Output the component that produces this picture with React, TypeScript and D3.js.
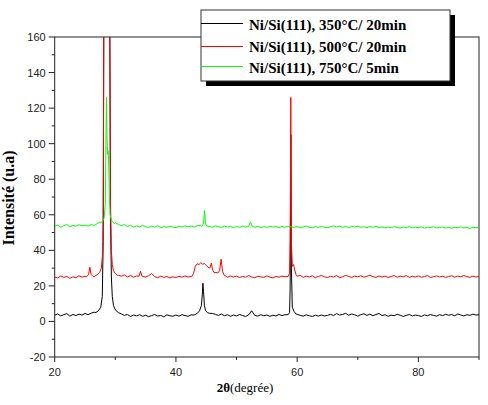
import React from "react";
import * as d3 from "d3";

// 2θ grid for the background points (0.5° step, 20° → 90°)
const angleStart = 20;
const angleStep = 0.5;

const seriesNames = [
  "Ni/Si(111), 350°C/ 20min",
  "Ni/Si(111), 500°C/ 20min",
  "Ni/Si(111), 750°C/ 5min",
];
const seriesColors = ["#000000", "#ff0000", "#00ff00"];

const xTicks = [20, 40, 60, 80];
const xMinorTicks = [30, 50, 70, 90];
const yTicks = [-20, 0, 20, 40, 60, 80, 100, 120, 140, 160];
const yMinorTicks = [-10, 10, 30, 50, 70, 90, 110, 130, 150];

// 350°C / 20min
const base350 = [
  3.5, 4.2, 3.1, 3.8, 4.4, 3.0, 3.9, 3.3, 4.1, 3.6,
  4.5, 3.8, 4.6, 5.2, 6.0, 7.5, 60, 900, 300, 20,
  6.5, 5.0, 4.2, 3.4, 3.9, 2.8, 3.6, 3.1, 3.8, 2.9,
  3.5, 2.7, 3.3, 3.9, 3.0, 3.4, 2.6, 3.7, 3.2, 2.9,
  3.6, 3.0, 3.8, 3.3, 2.9, 3.7, 4.5, 6.0, 10, 21,
  9, 5.5, 4.5, 4.0, 3.4, 4.1, 3.2, 3.8, 2.9, 3.6,
  3.1, 3.9, 3.3, 2.8, 3.7, 6.0, 3.4, 3.0, 3.8, 3.2,
  3.6, 2.9, 3.5, 3.1, 3.9, 3.3, 3.8, 4.6, 100, 5,
  4.0, 3.4, 3.0, 3.7, 3.2, 2.8, 3.5, 3.0, 3.6, 3.1,
  3.4, 4.0, 3.3, 4.4, 3.6, 3.9, 4.6, 3.5, 4.2, 3.7,
  3.0, 3.8, 4.3, 3.4, 4.1, 3.2, 3.9, 4.5, 3.3, 3.8,
  2.9, 3.6, 3.2, 4.0, 3.5, 2.8, 3.4, 3.9, 3.1, 3.6,
  3.3, 2.8, 3.7, 3.2, 3.9, 3.4, 3.0, 3.8, 3.3, 4.0,
  3.5, 3.9, 3.2, 4.2, 3.6, 3.1, 3.8, 3.4, 4.1, 3.6,
  3.8,
];
const peaks350: [number, number][][] = [
  [[26.8, 5], [27.2, 6], [27.6, 8], [27.85, 14], [28.0, 45], [28.1, 165], [28.2, 700], [28.4, 2000],
   [28.6, 2500], [28.8, 1500], [29.0, 300], [29.1, 160], [29.2, 60], [29.35, 25], [29.5, 14],
   [29.7, 9], [30.0, 6.5]],
  [[43.0, 3.6], [43.5, 4.5], [43.9, 6], [44.2, 9], [44.35, 15], [44.45, 21.5], [44.55, 17],
   [44.7, 9], [44.9, 6], [45.2, 5], [45.5, 4.6]],
  [[58.5, 3.8], [58.75, 5], [58.85, 20], [58.95, 105], [59.05, 30], [59.2, 8], [59.5, 5.5], [59.8, 4.2]],
];

// 500°C / 20min
const base500 = [
  25.0, 24.4, 25.6, 24.8, 25.3, 24.2, 25.1, 24.6, 25.7, 24.9,
  25.4, 26.5, 26.5, 25.0, 25.8, 26.5, 60, 900, 300, 30,
  27.5, 26.0, 25.4, 26.2, 25.0, 25.8, 24.9, 25.6, 28.0, 25.3,
  25.0, 25.7, 27.0, 25.2, 24.6, 25.5, 24.8, 25.3, 24.5, 25.1,
  24.7, 25.4, 24.9, 25.6, 25.0, 25.3, 31.0, 32.5, 32.0, 32.6,
  31.0, 30.0, 30.0, 28.0, 27.0, 28.0, 25.8, 24.8, 25.6, 25.0,
  25.5, 24.7, 25.3, 24.9, 25.8, 25.0, 24.6, 25.4, 25.1, 24.8,
  25.6, 25.0, 24.5, 25.3, 24.9, 25.5, 25.1, 25.8, 126, 31,
  25.4, 25.9, 24.8, 25.5, 25.0, 25.7, 24.6, 25.3, 25.9, 25.1,
  24.7, 25.4, 25.0, 25.8, 24.6, 25.2, 25.9, 25.3, 24.8, 25.5,
  25.1, 25.7, 24.9, 25.4, 26.0, 25.2, 24.8, 25.6, 25.0, 25.5,
  24.7, 25.3, 25.8, 24.9, 25.5, 25.1, 25.8, 24.8, 25.4, 25.0,
  25.6, 24.9, 25.3, 25.8, 24.7, 25.2, 25.6, 25.0, 25.4, 24.8,
  25.3, 25.7, 24.9, 25.5, 25.1, 25.8, 25.2, 24.8, 25.5, 25.0,
  25.3,
];
const peaks500: [number, number][][] = [
  [[25.3, 25.2], [25.6, 26.5], [25.8, 30.5], [26.0, 26.5], [26.3, 25.4]],
  [[26.6, 25.5], [27.0, 26.2], [27.4, 27.5], [27.7, 30], [27.9, 38], [28.0, 60], [28.1, 165],
   [28.2, 700], [28.4, 2000], [28.6, 2500], [28.8, 1500], [29.0, 300], [29.1, 160], [29.2, 70],
   [29.35, 40], [29.5, 32], [29.7, 28.5], [30.0, 27], [30.3, 26]],
  [[33.9, 25.4], [34.15, 28.2], [34.4, 25.5]],
  [[42.6, 25.2], [42.9, 27], [43.2, 31], [43.5, 32.5], [43.8, 32], [44.1, 33], [44.4, 32.2],
   [44.7, 32.6], [45.0, 31.5], [45.3, 30.5], [45.6, 30], [45.85, 32.8], [46.05, 29], [46.3, 27.5],
   [46.6, 27.6], [46.9, 27.2], [47.2, 28.5], [47.45, 35], [47.7, 28], [48.0, 25.8], [48.3, 25.5]],
  [[58.5, 25.3], [58.75, 27], [58.85, 45], [58.95, 126], [59.05, 45], [59.2, 31], [59.4, 32],
   [59.6, 29], [59.8, 26.5]],
];

// 750°C / 5min
const base750 = [
  53.5, 54.2, 53.0, 53.9, 54.5, 53.3, 54.0, 53.6, 54.4, 53.8,
  54.2, 53.6, 54.5, 54.0, 55.0, 56.0, 58, 126, 80, 58,
  55.5, 54.6, 53.9, 54.5, 53.4, 54.1, 53.0, 53.7, 53.2, 54.0,
  53.3, 52.8, 53.6, 53.0, 53.9, 52.7, 53.4, 52.9, 53.6, 53.1,
  52.8, 53.5, 53.0, 53.8, 53.2, 53.7, 53.1, 53.9, 54.0, 60,
  55, 53.5, 53.0, 53.8, 53.2, 52.9, 53.6, 53.1, 53.5, 52.8,
  53.4, 52.9, 53.6, 53.1, 53.2, 53.7, 53.0, 53.5, 52.8, 53.3,
  52.9, 53.6, 53.1, 53.4, 52.8, 53.5, 53.0, 53.6, 53.2, 52.9,
  53.4, 52.8, 53.2, 53.7, 53.0, 52.6, 53.3, 52.9, 53.5, 53.0,
  52.7, 53.3, 53.8, 53.1, 53.6, 53.0, 53.4, 52.8, 53.5, 53.1,
  53.6, 52.9, 53.3, 52.7, 53.4, 53.0, 53.5, 52.8, 53.2, 52.6,
  53.1, 52.7, 53.3, 52.9, 52.5, 53.2, 52.8, 53.4, 52.6, 53.0,
  52.7, 53.2, 52.5, 53.0, 52.8, 53.3, 52.6, 52.9, 53.1, 52.5,
  52.9, 52.4, 53.0, 52.7, 53.2, 52.6, 52.9, 52.3, 53.0, 52.7,
  53.0,
];
const peaks750: [number, number][][] = [
  [[27.6, 55.5], [27.9, 56.5], [28.15, 58], [28.35, 66], [28.48, 110], [28.55, 126], [28.62, 105],
   [28.72, 94], [28.82, 96], [28.92, 88], [29.02, 70], [29.15, 60], [29.35, 57], [29.6, 55.8], [29.9, 55]],
  [[44.3, 53.4], [44.55, 55], [44.72, 62.4], [44.88, 55], [45.1, 53.6]],
  [[52.0, 53.5], [52.3, 56], [52.6, 53.4]],
];

function buildSeries(base: number[], peaks: [number, number][][]) {
  const pts: [number, number][] = base
    .map((v, i) => [angleStart + i * angleStep, v] as [number, number])
    .filter(([a]) => !peaks.some((p) => a >= p[0][0] && a <= p[p.length - 1][0]));
  return pts.concat(...peaks).sort((a, b) => a[0] - b[0]);
}

const series = [
  buildSeries(base350, peaks350),
  buildSeries(base500, peaks500),
  buildSeries(base750, peaks750),
];

export default function App() {
  const width = 488;
  const height = 405;
  const left = 54.7, right = 479, top = 37, bottom = 357;

  const x = d3.scaleLinear().domain([20, 90]).range([left, right]);
  const y = d3.scaleLinear().domain([-20, 160]).range([bottom, top]);
  const line = d3.line<[number, number]>().x((d) => x(d[0])).y((d) => y(Math.min(d[1], 400)));

  const tickFont = "'Liberation Sans', Arial, sans-serif";
  const serif = "'Liberation Serif', 'Times New Roman', serif";
  const legendY = [23.5, 46.5, 66.5];
  const legendText = [30, 51.7, 73.3];

  return (
    <svg width={width} height={height} style={{ position: "absolute", left: 0, top: 0, background: "#fff" }}>
      <defs>
        <clipPath id="plot">
          <rect x={left} y={top} width={right - left} height={bottom - top} />
        </clipPath>
      </defs>
      {/* frame */}
      <rect x={left} y={top} width={right - left} height={bottom - top} fill="none" stroke="#222" strokeWidth={1} />

      <g clipPath="url(#plot)">
        {series.map((s, i) => (
          <path key={i} d={line(s) || ""} fill="none" stroke={seriesColors[i]} strokeWidth={1} />
        ))}
      </g>

      {/* y axis */}
      {yTicks.map((t) => (
        <g key={t}>
          <line x1={left - 6} x2={left} y1={y(t)} y2={y(t)} stroke="#222" />
          <text x={left - 9} y={y(t) + 4} textAnchor="end" fontSize={11} fontFamily={tickFont} fill="#222">{t}</text>
        </g>
      ))}
      {yMinorTicks.map((t) => (
        <line key={t} x1={left - 3} x2={left} y1={y(t)} y2={y(t)} stroke="#222" />
      ))}

      {/* x axis */}
      {xTicks.map((t) => (
        <g key={t}>
          <line x1={x(t)} x2={x(t)} y1={bottom} y2={bottom + 5} stroke="#222" />
          <text x={x(t)} y={bottom + 19} textAnchor="middle" fontSize={11} fontFamily={tickFont} fill="#222">{t}</text>
        </g>
      ))}
      {xMinorTicks.map((t) => (
        <line key={t} x1={x(t)} x2={x(t)} y1={bottom} y2={bottom + 3} stroke="#222" />
      ))}

      <text x={245} y={392} textAnchor="middle" fontSize={13} fontFamily={serif} fill="#000">
        <tspan fontWeight="bold">2θ</tspan>(degrée)
      </text>
      <text transform="translate(14,198) rotate(-90)" textAnchor="middle" fontSize={16} fontWeight="bold" fontFamily={serif} fill="#000">
        Intensité (u.a)
      </text>

      {/* legend */}
      <rect x={206} y={15} width={249} height={71} fill="#000" />
      <rect x={201} y={10} width={249} height={71} fill="#fff" stroke="#333" strokeWidth={1} />
      {seriesNames.map((n, i) => (
        <g key={n}>
          <line x1={201} x2={243} y1={legendY[i]} y2={legendY[i]} stroke={seriesColors[i]} />
          <text x={249} y={legendText[i]} fontSize={15} fontWeight="bold" fontFamily={serif} fill="#000">{n}</text>
        </g>
      ))}
    </svg>
  );
}
